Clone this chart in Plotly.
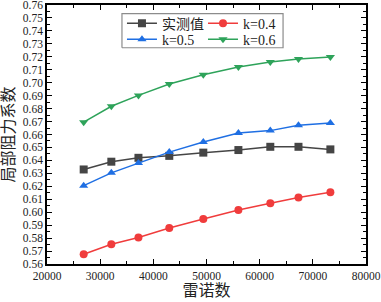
import plotly.graph_objects as go

reynolds = [26900, 32100, 37200, 43000, 49400, 56000, 62000, 67300, 73300]
measured = [0.633, 0.639, 0.642, 0.6435, 0.646, 0.648, 0.6505, 0.6505, 0.6485]
k04 = [0.5675, 0.5753, 0.5805, 0.5878, 0.5947, 0.6017, 0.6069, 0.6113, 0.6154]
k05 = [0.6205, 0.6304, 0.6379, 0.6464, 0.6542, 0.6612, 0.663, 0.6671, 0.6689]
k06 = [0.6695, 0.6818, 0.6902, 0.6990, 0.7061, 0.7121, 0.716, 0.7183, 0.7198]

names = ["实测值", "k=0.4", "k=0.5", "k=0.6"]
values = [measured, k04, k05, k06]
colors = ["#454545", "#f03c3c", "#1f6fe3", "#2ea35a"]
symbols = ["square", "circle", "triangle-up", "triangle-down"]
legend_ids = ["legend", "legend2", "legend3", "legend4"]

FONT = "Liberation Serif, Times New Roman, Noto Sans CJK SC, serif"

fig = go.Figure()
for name, vals, color, sym, leg in zip(names, values, colors, symbols, legend_ids):
    fig.add_trace(go.Scatter(
        x=reynolds, y=vals, name=name, mode="lines+markers",
        line=dict(color=color, width=1.5),
        marker=dict(symbol=sym, size=8, color=color),
        legend=leg, showlegend=True,
    ))

# legend frame drawn on a hidden 0..1 overlay axis pair
fig.add_trace(go.Scatter(
    x=[0.235, 0.740, 0.740, 0.235, 0.235],
    y=[0.835, 0.835, 0.967, 0.967, 0.835],
    xaxis="x2", yaxis="y2", mode="lines", fill="toself",
    fillcolor="white", line=dict(color="#8c8c8c", width=1.2),
    hoverinfo="skip", showlegend=False,
))

axis_common = dict(
    showline=True, linecolor="black", linewidth=1.5, mirror="ticks",
    ticks="inside", ticklen=5, tickwidth=1.2, tickcolor="black",
    showgrid=False, zeroline=False, automargin=False,
    ticklabeloverflow="allow",
    tickfont=dict(family=FONT, size=11.5, color="#222"),
)

xaxis_cfg = dict(
    range=[20000, 80000.01], dtick=10000, tickformat="d",
    minor=dict(ticks="inside", ticklen=3, dtick=5000, tickcolor="black"),
    title=dict(text="雷诺数", font=dict(family=FONT, size=16, color="#222"), standoff=2),
    **axis_common,
)
yaxis_cfg = dict(
    range=[0.56, 0.7600001], tick0=0.56, dtick=0.01, tickformat=".2f",
    minor=dict(ticks="inside", ticklen=3, dtick=0.005, tickcolor="black"),
    title=dict(text="局部阻力系数", font=dict(family=FONT, size=16, color="#222"), standoff=4),
    **axis_common,
)

leg_common = dict(
    orientation="v", xanchor="left", yanchor="middle",
    bgcolor="rgba(0,0,0,0)", borderwidth=0,
    font=dict(family=FONT, size=14, color="#222"),
    itemwidth=30,
)

fig.update_layout(
    width=381, height=302,
    margin=dict(l=47, r=15, t=5, b=38, autoexpand=False),
    plot_bgcolor="white", paper_bgcolor="white",
    font=dict(family=FONT, size=13, color="#222"),
    showlegend=True,
    xaxis=xaxis_cfg,
    yaxis=yaxis_cfg,
    xaxis2=dict(overlaying="x", anchor="y2", range=[0, 1], visible=False, fixedrange=True),
    yaxis2=dict(overlaying="y", anchor="x2", range=[0, 1], visible=False, fixedrange=True),
    legend=dict(x=0.235, y=0.928, **leg_common),
    legend2=dict(x=0.489, y=0.928, **leg_common),
    legend3=dict(x=0.235, y=0.866, **leg_common),
    legend4=dict(x=0.489, y=0.866, **leg_common),
)

fig.write_html(
    "out.html",
    config={"displayModeBar": False},
    post_script="document.body.style.margin='0';document.body.style.padding='0';",
)
